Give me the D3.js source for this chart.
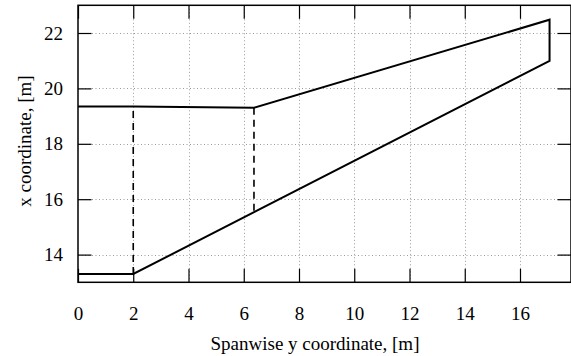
<!DOCTYPE html>
<html>
<head>
<meta charset="utf-8">
<script src="https://cdn.jsdelivr.net/npm/d3@7"></script>
<style>
  html, body { margin: 0; padding: 0; background: #fff; }
  svg { display: block; }
</style>
</head>
<body>
<script>
// ---- data ----
const outlineX = [0, 2, 17.07, 17.07, 6.37, 2, 0];
const outlineY = [13.3, 13.3, 20.99, 22.48, 19.30, 19.35, 19.35];
const dash1X = [2, 2];
const dash1Y = [13.3, 19.35];
const dash2X = [6.37, 6.37];
const dash2Y = [19.30, 15.55];
const xTicks = [0, 2, 4, 6, 8, 10, 12, 14, 16];
const yTicks = [14, 16, 18, 20, 22];
const xLabel = "Spanwise y coordinate, [m]";
const yLabel = "x coordinate, [m]";

const FONT = "'Liberation Serif', Tinos, 'Times New Roman', Times, 'Nimbus Roman', 'DejaVu Serif', serif";

// ---- layout ----
const W = 571, H = 356;
const L = 78, T = 5.3, B = 282.3, R = 571;
const svg = d3.select("body").append("svg").attr("width", W).attr("height", H);

const x = d3.scaleLinear().domain([0, (R - L) / 27.625]).range([L, R]);
const y = d3.scaleLinear().domain([13, 23]).range([B, T]);

// grid
const grid = svg.append("g").attr("stroke", "#9a9a9a").attr("stroke-width", 1).attr("stroke-dasharray", "1,2.5");
xTicks.filter(d => d > 0).forEach(d => {
  grid.append("line").attr("x1", Math.round(x(d)) + 0.5).attr("x2", Math.round(x(d)) + 0.5).attr("y1", T).attr("y2", B);
});
yTicks.forEach(d => {
  grid.append("line").attr("x1", L).attr("x2", R).attr("y1", Math.round(y(d)) + 0.5).attr("y2", Math.round(y(d)) + 0.5);
});

// axes with inward ticks (mirrored)
const tl = 13.5;
const fmt = d => d;
const axB = svg.append("g").attr("transform", `translate(0,${B})`)
  .call(d3.axisBottom(x).tickValues(xTicks).tickSize(-tl).tickPadding(24).tickFormat(fmt));
const axT = svg.append("g").attr("transform", `translate(0,${T})`)
  .call(d3.axisTop(x).tickValues(xTicks).tickSize(-tl).tickFormat(""));
const axL = svg.append("g").attr("transform", `translate(${L},0)`)
  .call(d3.axisLeft(y).tickValues(yTicks).tickSize(-tl).tickPadding(15).tickFormat(fmt));
const axR = svg.append("g").attr("transform", `translate(${R},0)`)
  .call(d3.axisRight(y).tickValues(yTicks).tickSize(-tl).tickFormat(""));
[axB, axT, axL, axR].forEach(a => {
  a.attr("font-family", FONT).attr("font-size", 19);
  a.select(".domain").remove();
  a.selectAll(".tick line").attr("stroke", "#000").attr("stroke-width", 1.2);
  a.selectAll("text").attr("font-family", FONT).attr("font-size", 19).attr("fill", "#000");
});
axB.selectAll("text").attr("dy", "0.71em");

// border
svg.append("rect").attr("x", L).attr("y", T).attr("width", R - L).attr("height", B - T)
  .attr("fill", "none").attr("stroke", "#000").attr("stroke-width", 1.5);

// outline
const line = d3.line().x(d => x(d[0])).y(d => y(d[1]));
svg.append("path").datum(outlineX.map((v, i) => [v, outlineY[i]]))
  .attr("d", line).attr("fill", "none").attr("stroke", "#000").attr("stroke-width", 2).attr("stroke-linejoin", "miter");
[[dash1X, dash1Y], [dash2X, dash2Y]].forEach(([dx, dy]) => {
  svg.append("path").datum(dx.map((v, i) => [v, dy[i]]))
    .attr("d", line).attr("fill", "none").attr("stroke", "#000").attr("stroke-width", 1.6).attr("stroke-dasharray", "7,5");
});

// axis labels
svg.append("text").attr("x", 315).attr("y", 350).attr("text-anchor", "middle")
  .attr("font-family", FONT).attr("font-size", 19).attr("fill", "#000").text(xLabel);
svg.append("text").attr("transform", "translate(31,141) rotate(-90)").attr("text-anchor", "middle")
  .attr("font-family", FONT).attr("font-size", 19).attr("fill", "#000").text(yLabel);
</script>
</body>
</html>
